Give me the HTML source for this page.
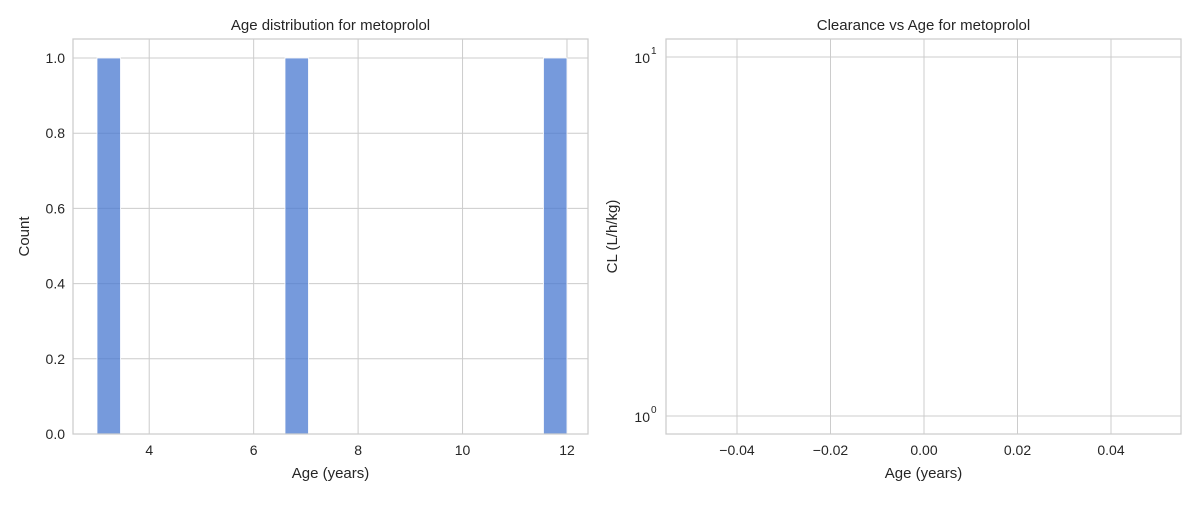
<!DOCTYPE html>
<html><head><meta charset="utf-8"><style>
body{margin:0;background:#fff;font-family:"Liberation Sans",sans-serif}
svg text{font-family:"Liberation Sans",sans-serif;fill:#262626}
</style></head><body>
<svg id="c" width="1200" height="500" xmlns="http://www.w3.org/2000/svg"></svg>
<script>
const binStarts=[3,6.6,11.55];
const binCounts=[1,1,1];
const binWidth=0.45;
const xTicksL=[4,6,8,10,12];
const yTicksL=[0,0.2,0.4,0.6,0.8,1.0];
const xTicksR=[-0.04,-0.02,0,0.02,0.04];
const yTicksR=[1,10];
const NS="http://www.w3.org/2000/svg";
const svg=document.getElementById('c');
function el(t,a,txt){const e=document.createElementNS(NS,t);for(const k in a)e.setAttribute(k,a[k]);if(txt!==undefined)e.textContent=txt;svg.appendChild(e);return e;}
// left axes
const L={x0:73,x1:588,y0:434,y1:39};
const xL=v=>97+(v-3)*52.22;
const yL=v=>434-v*376;
let bg=el('rect',{x:L.x0,y:L.y1,width:L.x1-L.x0,height:L.y0-L.y1,fill:'#fff'});

xTicksL.forEach(v=>{const g=el('line',{x1:xL(v),x2:xL(v),y1:L.y1,y2:L.y0,stroke:'#cccccc','stroke-width':1});

const t=el('text',{x:xL(v),y:455,'font-size':14,'text-anchor':'middle'},String(v));
});
yTicksL.forEach(v=>{const g=el('line',{x1:L.x0,x2:L.x1,y1:yL(v),y2:yL(v),stroke:'#cccccc','stroke-width':1});

const t=el('text',{x:L.x0-8,y:yL(v)+5,'font-size':14,'text-anchor':'end'},v.toFixed(1));
});
binStarts.forEach((s,i)=>{const b=el('rect',{x:xL(s),y:yL(binCounts[i]),width:xL(s+binWidth)-xL(s),height:yL(0)-yL(binCounts[i]),fill:'rgba(72,120,208,0.75)',stroke:'#fff','stroke-width':0.8});
});
let f=el('rect',{x:L.x0,y:L.y1,width:L.x1-L.x0,height:L.y0-L.y1,fill:'none',stroke:'#cccccc','stroke-width':1.25});

let t1=el('text',{x:(L.x0+L.x1)/2,y:30,'font-size':15,'text-anchor':'middle'},'Age distribution for metoprolol');

let xl=el('text',{x:(L.x0+L.x1)/2,y:478,'font-size':15,'text-anchor':'middle'},'Age (years)');

let yl=el('text',{x:0,y:0,'font-size':15,'text-anchor':'middle',transform:`translate(29,${(L.y0+L.y1)/2}) rotate(-90)`},'Count');

// right axes
const R={x0:666,x1:1181,y0:434,y1:39};
const xR=v=>924+v*4675;
const yR=v=>416-Math.log10(v)*359;
xTicksR.forEach(v=>{const g=el('line',{x1:xR(v),x2:xR(v),y1:R.y1,y2:R.y0,stroke:'#cccccc','stroke-width':1});

const t=el('text',{x:xR(v),y:455,'font-size':14,'text-anchor':'middle'},v.toFixed(2).replace('-','\u2212'));
});
yTicksR.forEach(v=>{const g=el('line',{x1:R.x0,x2:R.x1,y1:yR(v),y2:yR(v),stroke:'#cccccc','stroke-width':1});

const t=el('text',{x:R.x0-16,y:yR(v)+6,'font-size':14,'text-anchor':'end'},'10');

const s=el('text',{x:R.x0-15,y:yR(v)-3,'font-size':10,'text-anchor':'start'},String(Math.round(Math.log10(v))));
});
let f2=el('rect',{x:R.x0,y:R.y1,width:R.x1-R.x0,height:R.y0-R.y1,fill:'none',stroke:'#cccccc','stroke-width':1.25});

let t2=el('text',{x:(R.x0+R.x1)/2,y:30,'font-size':15,'text-anchor':'middle'},'Clearance vs Age for metoprolol');

let xr=el('text',{x:(R.x0+R.x1)/2,y:478,'font-size':15,'text-anchor':'middle'},'Age (years)');

let yr=el('text',{x:0,y:0,'font-size':15,'text-anchor':'middle',transform:`translate(617,${(R.y0+R.y1)/2}) rotate(-90)`},'CL (L/h/kg)');

</script>
</body></html>
